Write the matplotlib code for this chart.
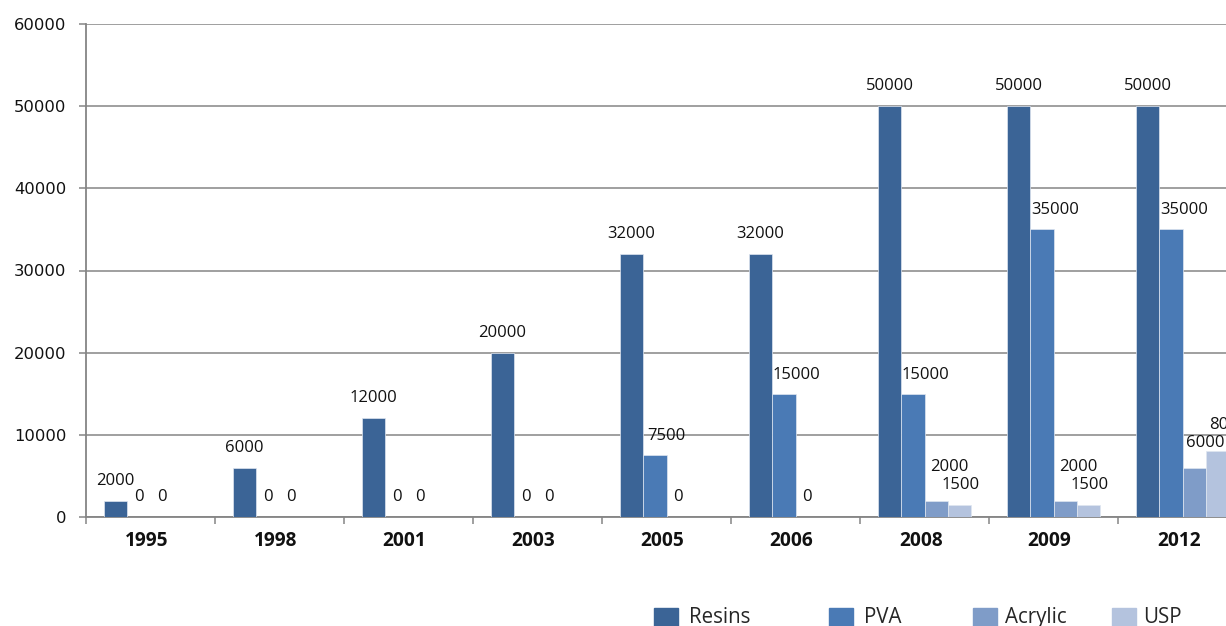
import numpy as np
import matplotlib.pyplot as plt
from matplotlib.patches import Rectangle

# Datos por año (USP sin dato antes de 2008)
years = ['1995', '1998', '2001', '2003', '2005', '2006', '2008', '2009', '2012']
resins = [2000, 6000, 12000, 20000, 32000, 32000, 50000, 50000, 50000]
pva = [0, 0, 0, 0, 7500, 15000, 15000, 35000, 35000]
acrylic = [0, 0, 0, 0, 0, 0, 2000, 2000, 6000]
usp = [np.nan, np.nan, np.nan, np.nan, np.nan, np.nan, 1500, 1500, 8000]

series_names = ['Resins', 'PVA', 'Acrylic', 'USP']
series_values = [resins, pva, acrylic, usp]
colors = ['#3b6496', '#4a7ab5', '#7f9cc8', '#b4c3de']

# Desplazamiento de algunas etiquetas (en píxeles: dx, dy sobre la barra)
label_shift = {
    ('PVA', '2005'): (12, 19), ('PVA', '2006'): (13, 19),
    ('PVA', '2008'): (13, 19), ('PVA', '2009'): (13, 19), ('PVA', '2012'): (13, 19),
    ('Acrylic', '2008'): (13, 34), ('Acrylic', '2009'): (13, 34),
    ('Acrylic', '2012'): (11, 25),
    ('USP', '2008'): (1, 20), ('USP', '2009'): (1, 20), ('USP', '2012'): (11, 26),
}

W, H = 1226, 626
fig = plt.figure(figsize=(W / 100, H / 100), dpi=100)
# el eje se sale por la derecha de la figura (el último grupo queda cortado)
ax = fig.add_axes([86 / W, 1 - 517 / H, 1161 / W, 493 / H])

gray = '#858585'
x = np.arange(len(years)) + 0.5
width = 0.181
px = 0.72  # puntos por píxel a 100 dpi

for k, (name, vals, c) in enumerate(zip(series_names, series_values, colors)):
    vals = np.array(vals, dtype=float)
    ok = ~np.isnan(vals)
    xpos = x + (k - 1.5) * width
    ax.bar(xpos[ok], vals[ok], width, color=c, edgecolor='#dfe6f0', linewidth=0.5, zorder=3)
    for xi, v, yr, good in zip(xpos, vals, years, ok):
        if not good:
            continue
        dx, dy = label_shift.get((name, yr), (0, 20))
        ax.annotate(f'{int(v)}', (xi, v), xytext=(dx * px, dy * px), textcoords='offset points',
                    ha='center', va='center', fontsize=12, family='Open Sans', color='#111111',
                    annotation_clip=False)

ax.set_xlim(0, len(years))
ax.set_ylim(0, 60000)
ax.set_yticks(np.arange(0, 60001, 10000))
ax.yaxis.grid(True, color=gray, linewidth=1.1)
ax.set_axisbelow(True)

# marcas entre categorías y etiquetas centradas
ax.set_xticks(np.arange(0, len(years) + 1))
ax.set_xticklabels([])
ax.set_xticks(x - 0.03, minor=True)
ax.set_xticklabels(years, minor=True, fontsize=13.8, fontweight='bold', family='Open Sans', color='#111111')
ax.tick_params(axis='x', which='major', length=5, width=1.1, color=gray, direction='out')
ax.tick_params(axis='x', which='minor', length=0, pad=10)
ax.tick_params(axis='y', length=5, width=1.1, color=gray, pad=9, labelsize=11.8, labelcolor='#111111')

for s in ['top', 'right']:
    ax.spines[s].set_visible(False)
for s in ['left', 'bottom']:
    ax.spines[s].set_color(gray)
    ax.spines[s].set_linewidth(1.3)

# Leyenda abajo, dibujada a mano
legend_x = [(654, 689), (829, 864), (973, 1005), (1112, 1143)]
for (sq, tx), name, c in zip(legend_x, series_names, colors):
    fig.patches.append(Rectangle((sq / W, 1 - 633 / H), 24 / W, 25 / H,
                                 transform=fig.transFigure, color=c, figure=fig))
    fig.text(tx / W, 1 - 623 / H, name, fontsize=14.8, family='Open Sans', color='#262626',
             ha='left', va='baseline')

fig.savefig('out.png', dpi=100)
